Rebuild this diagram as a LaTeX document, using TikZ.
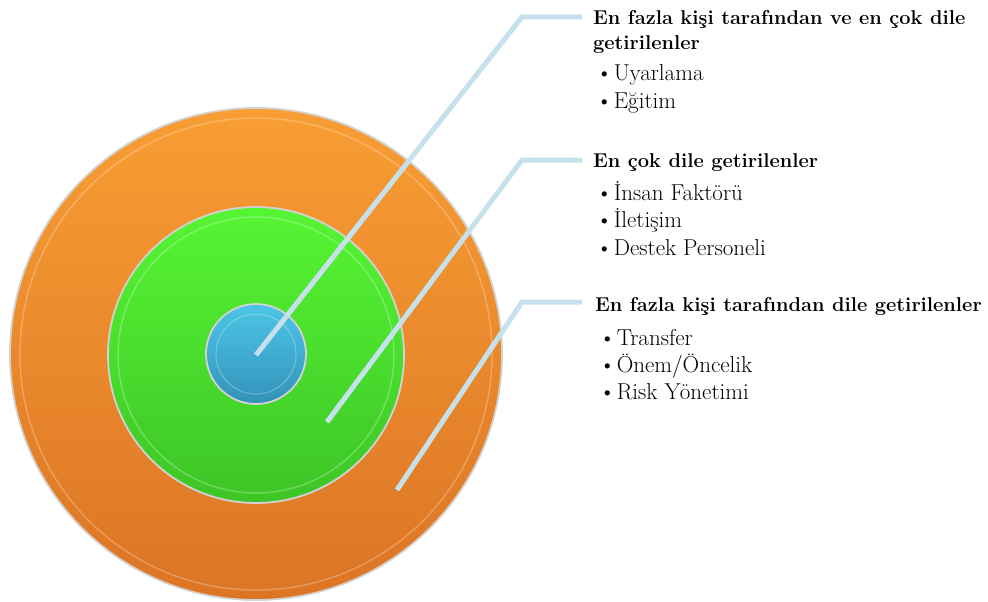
\documentclass[tikz,border=0pt]{standalone}
\usepackage{fontspec}
\usepackage{tikz}
\usepackage{xcolor}

\definecolor{orangetop}{HTML}{F89E34}
\definecolor{orangebot}{HTML}{DC7424}
\definecolor{greentop}{HTML}{56F533}
\definecolor{greenbot}{HTML}{3DC527}
\definecolor{bluetop}{HTML}{4CC6E6}
\definecolor{bluebot}{HTML}{3392BA}
\definecolor{leadblue}{HTML}{C6E1EB}

\begin{document}
\begin{tikzpicture}[x=1pt,y=-1pt,
  ring/.style={circle,draw=gray!35,line width=1.8pt,inner sep=0pt},
  lead/.style={draw=leadblue,line width=5pt},
  head/.style={anchor=base west,inner sep=0pt,font=\fontsize{20}{24}\selectfont\bfseries},
  item/.style={anchor=base west,inner sep=0pt,font=\fontsize{23}{27}\selectfont}]
\useasboundingbox (0,0) rectangle (988,602);

% circles
\node[ring,minimum size=492pt,top color=orangetop,bottom color=orangebot] (outer) at (256,354) {};
\draw[white,opacity=.25,line width=1.5pt] (outer.center) circle (236);
\node[ring,minimum size=296pt,top color=greentop,bottom color=greenbot] (middle) at (256,355) {};
\draw[white,opacity=.25,line width=1.5pt] (middle.center) circle (138);
\node[ring,minimum size=100pt,top color=bluetop,bottom color=bluebot] (inner) at (256,354) {};
\draw[white,opacity=.25,line width=1.2pt] (inner.center) circle (40);

% leader lines
\coordinate (p1) at (256,355); \coordinate (k1) at (522,17); \coordinate (e1) at (582,17);
\coordinate (p2) at (327,422); \coordinate (k2) at (522,160); \coordinate (e2) at (582,160);
\coordinate (p3) at (397,490); \coordinate (k3) at (522,302); \coordinate (e3) at (582,302);
\draw[lead] (p1)--(k1)--(e1);
\draw[lead] (p2)--(k2)--(e2);
\draw[lead] (p3)--(k3)--(e3);

% texts
\node[head] (h1a) at (593,25) {En fazla kişi tarafından ve en çok dile};
\node[head] (h1b) at (593,49) {getirilenler};
\node[item] (b1a) at (596,81) {\textbullet\hspace{1pt}Uyarlama};
\node[item] (b1b) at (596,108) {\textbullet\hspace{1pt}Eğitim};

\node[head] (h2) at (593,167) {En çok dile getirilenler};
\node[item] (b2a) at (596,200) {\textbullet\hspace{1pt}İnsan Faktörü};
\node[item] (b2b) at (596,227) {\textbullet\hspace{1pt}İletişim};
\node[item] (b2c) at (596,255) {\textbullet\hspace{1pt}Destek Personeli};

\node[head] (h3) at (595,311) {En fazla kişi tarafından dile getirilenler};
\node[item] (b3a) at (599,345) {\textbullet\hspace{1pt}Transfer};
\node[item] (b3b) at (599,372) {\textbullet\hspace{1pt}Önem/Öncelik};
\node[item] (b3c) at (599,399) {\textbullet\hspace{1pt}Risk Yönetimi};
\end{tikzpicture}
\end{document}
